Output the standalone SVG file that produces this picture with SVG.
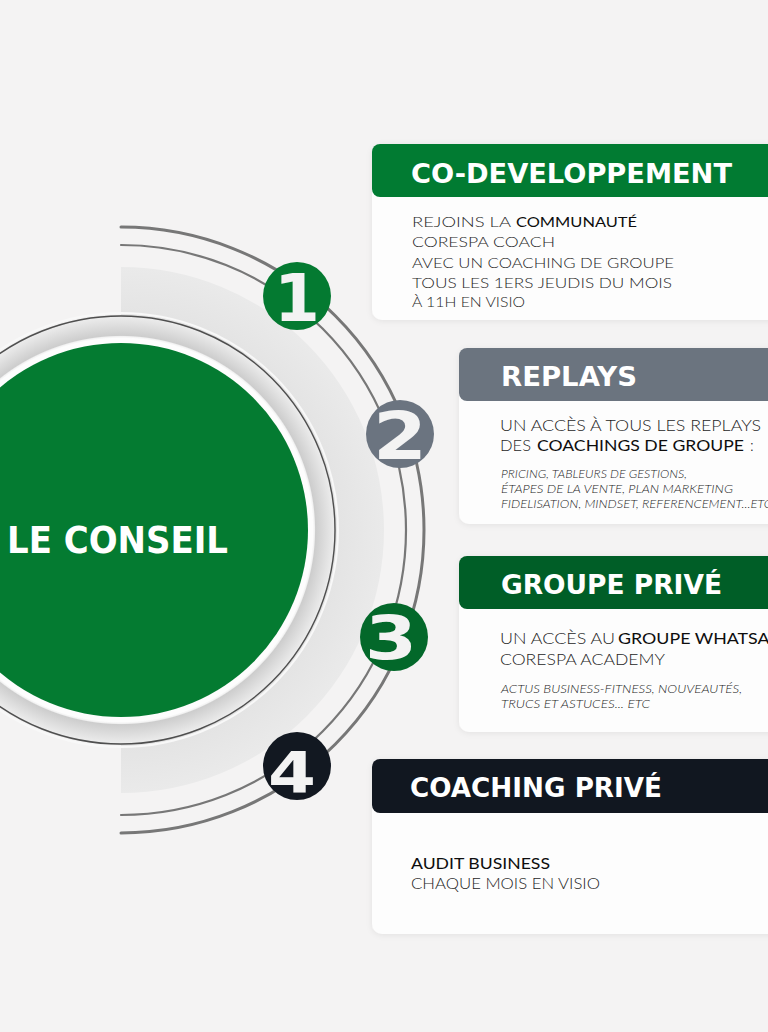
<svg xmlns="http://www.w3.org/2000/svg" width="768" height="1032" viewBox="0 0 768 1032">
<defs>
<style>
.title{font-family:"DejaVu Sans","Liberation Sans",sans-serif;font-weight:700;font-size:27px;fill:#ffffff}
.lt{font-family:Lato,"Liberation Sans",sans-serif;font-weight:300;fill:#262626}
.md{font-family:Lato,"Liberation Sans",sans-serif;font-weight:400;fill:#0e0e0e}
.it{font-family:Lato,"Liberation Sans",sans-serif;font-weight:300;font-style:italic;font-size:11px;fill:#1e1e1e}
.dig{font-family:"DejaVu Sans","Liberation Sans",sans-serif;font-weight:700;fill:#f3f3f3;text-anchor:middle}
.body{fill:#fdfdfd}
.arc{fill:none;stroke:#777777;stroke-linecap:round}
</style>
<filter id="sh" x="-10%" y="-15%" width="120%" height="140%">
<feDropShadow dx="0" dy="1" stdDeviation="3" flood-color="#000" flood-opacity="0.07"/>
</filter>
<radialGradient id="band" gradientUnits="userSpaceOnUse" cx="121" cy="530" r="263">
<stop offset="0.8" stop-color="#e3e3e3"/>
<stop offset="1" stop-color="#eaeaea"/>
</radialGradient>
<radialGradient id="ring" gradientUnits="userSpaceOnUse" cx="121" cy="530" r="215">
<stop offset="0.89" stop-color="#ffffff"/>
<stop offset="0.9" stop-color="#f2f2f2"/>
<stop offset="0.905" stop-color="#cdcdcd"/>
<stop offset="0.95" stop-color="#dddddd"/>
<stop offset="0.99" stop-color="#ebebeb"/>
<stop offset="1" stop-color="#d8d8d8"/>
</radialGradient>
</defs>
<rect x="0" y="0" width="768" height="1032" fill="#f4f3f3"/>

<g id="band-bg">
<path d="M121,267 A263,263 0 0 1 121,793 Z" fill="url(#band)"/>
</g>

<g id="connectors">
<path class="arc" stroke-width="3" d="M121,227 A303,303 0 0 1 121,833"/>
<path class="arc" stroke-width="2.2" d="M121,245 A285,285 0 0 1 121,815"/>
</g>

<g id="center">
<circle cx="121" cy="530" r="217" fill="none" stroke="#f8f8f8" stroke-width="2"/>
<circle cx="121" cy="530" r="215" fill="url(#ring)"/>
<circle cx="121" cy="530" r="214" fill="none" stroke="#4f4f4f" stroke-width="1.4"/>
<circle cx="121" cy="530" r="192" fill="#fdfdfd"/>
<circle cx="121" cy="530" r="187" fill="#047b31"/>
<text x="7" y="553" font-family="'DejaVu Sans','Liberation Sans',sans-serif" font-weight="700" font-size="38" fill="#ffffff" textLength="221" lengthAdjust="spacingAndGlyphs">LE CONSEIL</text>
</g>

<g id="step1">
<circle cx="297" cy="296" r="34" fill="#047a31"/>
<text class="dig" x="297" y="321" font-size="66">1</text>
</g>
<g id="step2">
<circle cx="400" cy="434" r="34" fill="#6b7480"/>
<text class="dig" x="400" y="459" font-size="66" textLength="54" lengthAdjust="spacingAndGlyphs">2</text>
</g>
<g id="step3">
<circle cx="394" cy="637" r="34" fill="#03682a"/>
<text class="dig" x="391" y="659" font-size="60" textLength="52" lengthAdjust="spacingAndGlyphs">3</text>
</g>
<g id="step4">
<circle cx="297" cy="766" r="34" fill="#121821"/>
<text class="dig" x="292" y="793" font-size="57" textLength="48" lengthAdjust="spacingAndGlyphs">4</text>
</g>

<g id="card1">
<rect class="body" x="372" y="144" width="420" height="176" rx="10" filter="url(#sh)"/>
<rect x="372" y="144" width="420" height="53" rx="8" fill="#017b32"/>
<text class="title" x="411" y="183" textLength="321" lengthAdjust="spacingAndGlyphs">CO-DEVELOPPEMENT</text>
<text class="lt" x="412" y="227" font-size="14" textLength="99" lengthAdjust="spacingAndGlyphs">REJOINS LA</text>
<text class="md" x="516" y="227" font-size="14" textLength="121" lengthAdjust="spacingAndGlyphs">COMMUNAUTÉ</text>
<text class="lt" x="412" y="247" font-size="14" textLength="143" lengthAdjust="spacingAndGlyphs">CORESPA COACH</text>
<text class="lt" x="412" y="268" font-size="14" textLength="262" lengthAdjust="spacingAndGlyphs">AVEC UN COACHING DE GROUPE</text>
<text class="lt" x="412" y="288" font-size="14" textLength="260" lengthAdjust="spacingAndGlyphs">TOUS LES 1ERS JEUDIS DU MOIS</text>
<text class="lt" x="412" y="307" font-size="14" textLength="113" lengthAdjust="spacingAndGlyphs">À 11H EN VISIO</text>
</g>

<g id="card2">
<rect class="body" x="459" y="348" width="340" height="176" rx="10" filter="url(#sh)"/>
<rect x="459" y="348" width="340" height="53" rx="8" fill="#6b747f"/>
<text class="title" x="501" y="386" textLength="136" lengthAdjust="spacingAndGlyphs">REPLAYS</text>
<text class="lt" x="500" y="431" font-size="15.5" textLength="261" lengthAdjust="spacingAndGlyphs">UN ACCÈS À TOUS LES REPLAYS</text>
<text class="lt" x="500" y="451" font-size="15.5" textLength="31" lengthAdjust="spacingAndGlyphs">DES</text>
<text class="md" x="537" y="451" font-size="15.5" textLength="207" lengthAdjust="spacingAndGlyphs">COACHINGS DE GROUPE</text>
<text class="lt" x="750" y="451" font-size="15.5">:</text>
<text class="it" x="501" y="478" textLength="186" lengthAdjust="spacingAndGlyphs">PRICING, TABLEURS DE GESTIONS,</text>
<text class="it" x="501" y="493" textLength="232" lengthAdjust="spacingAndGlyphs">ÉTAPES DE LA VENTE, PLAN MARKETING</text>
<text class="it" x="501" y="508" textLength="271" lengthAdjust="spacingAndGlyphs">FIDELISATION, MINDSET, REFERENCEMENT...ETC</text>
</g>

<g id="card3">
<rect class="body" x="459" y="556" width="340" height="176" rx="10" filter="url(#sh)"/>
<rect x="459" y="556" width="340" height="53" rx="8" fill="#005e27"/>
<text class="title" x="501" y="594" textLength="221" lengthAdjust="spacingAndGlyphs">GROUPE PRIVÉ</text>
<text class="lt" x="500" y="644" font-size="15.5" textLength="115" lengthAdjust="spacingAndGlyphs">UN ACCÈS AU</text>
<text class="md" x="618" y="644" font-size="15.5" textLength="173" lengthAdjust="spacingAndGlyphs">GROUPE WHATSAPP</text>
<text class="lt" x="500" y="665" font-size="15.5" textLength="165" lengthAdjust="spacingAndGlyphs">CORESPA ACADEMY</text>
<text class="it" x="501" y="693" textLength="241" lengthAdjust="spacingAndGlyphs">ACTUS BUSINESS-FITNESS, NOUVEAUTÉS,</text>
<text class="it" x="501" y="708" textLength="149" lengthAdjust="spacingAndGlyphs">TRUCS ET ASTUCES... ETC</text>
</g>

<g id="card4">
<rect class="body" x="372" y="759" width="420" height="175" rx="10" filter="url(#sh)"/>
<rect x="372" y="759" width="420" height="54" rx="8" fill="#111720"/>
<text class="title" x="410" y="797" textLength="252" lengthAdjust="spacingAndGlyphs">COACHING PRIVÉ</text>
<text class="md" x="411" y="869" font-size="15.5" textLength="139" lengthAdjust="spacingAndGlyphs">AUDIT BUSINESS</text>
<text class="lt" x="411" y="889" font-size="15.5" textLength="189" lengthAdjust="spacingAndGlyphs">CHAQUE MOIS EN VISIO</text>
</g>
</svg>
